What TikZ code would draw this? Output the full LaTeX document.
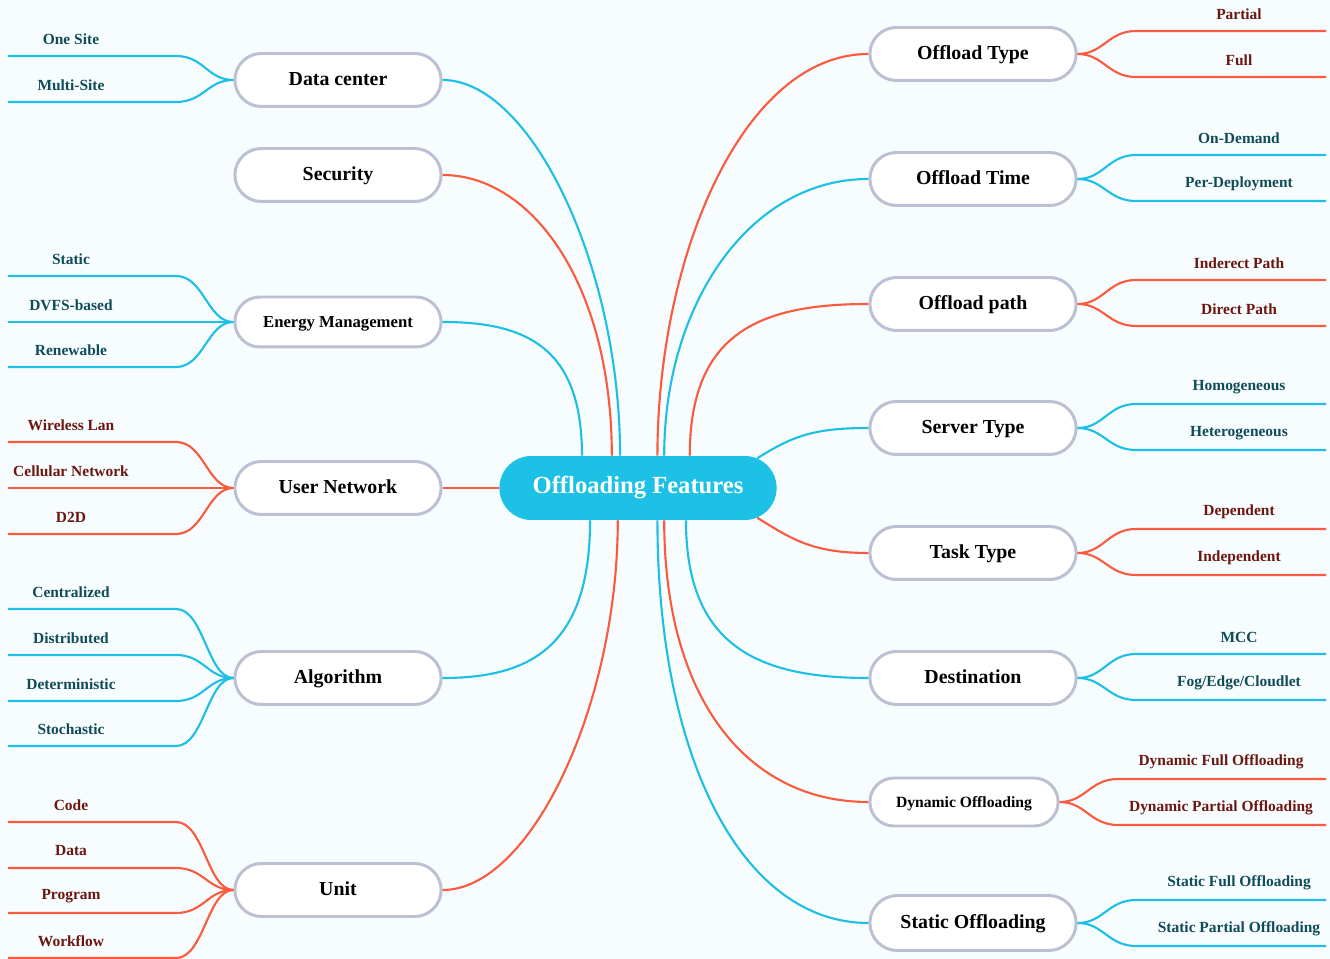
\documentclass[tikz,border=0pt]{standalone}
\usepackage{fontspec}
\setmainfont{Liberation Serif}
\usetikzlibrary{shapes.misc}

\definecolor{bgcol}{HTML}{F7FDFE}
\definecolor{cyline}{HTML}{1EBFE4}
\definecolor{rdline}{HTML}{FA5A3D}
\definecolor{hubfill}{HTML}{1CC1E5}
\definecolor{boxline}{HTML}{BDC0D3}
\definecolor{cytext}{HTML}{104B58}
\definecolor{rdtext}{HTML}{6C1610}

\tikzset{
    hub/.style={rounded rectangle, fill=hubfill, text=white, minimum width=5.78cm,
        minimum height=1.28cm, text height=1.44ex, text depth=0pt,
        font=\fontsize{14}{16}\selectfont\bfseries},
    branch/.style={rounded rectangle, draw=boxline, line width=1.7pt, fill=white,
        minimum width=4.36cm, minimum height=1.06cm, text height=1.44ex, text depth=0pt,
        font=\fontsize{11.3}{13}\selectfont\bfseries},
    cy/.style={cyline, line width=1.2pt},
    rd/.style={rdline, line width=1.2pt},
    leafcy/.style={text=cytext, font=\fontsize{8.8}{10}\selectfont\bfseries},
    leafrd/.style={text=rdtext, font=\fontsize{8.8}{10}\selectfont\bfseries}
}

\begin{document}
\begin{tikzpicture}[x=0.02cm, y=-0.02cm]
    % Canvas
    \fill[bgcol] (0,0) rectangle (1330,959);
    \useasboundingbox (0,0) rectangle (1330,959);

    % Centre
    \node[hub] (feat) at (638,488) {Offloading Features};

    % Left branches
    \node[branch] (dc) at (338,80) {Data center};
    \node[branch] (sec) at (338,175) {Security};
    \node[branch, font=\fontsize{9.5}{11}\selectfont\bfseries, minimum height=1.0cm] (em) at (338,322) {Energy Management};
    \node[branch] (un) at (338,488) {User Network};
    \node[branch] (alg) at (338,678) {Algorithm};
    \node[branch] (unit) at (338,890) {Unit};

    % Right branches
    \node[branch] (otype) at (973,54) {Offload Type};
    \node[branch] (otime) at (973,179) {Offload Time};
    \node[branch] (opath) at (973,304) {Offload path};
    \node[branch] (stype) at (973,428) {Server Type};
    \node[branch] (ttype) at (973,553) {Task Type};
    \node[branch] (dest) at (973,678) {Destination};
    \node[branch, font=\fontsize{8.9}{10}\selectfont\bfseries, minimum width=4.0cm, minimum height=0.96cm] (dyn) at (964,802) {Dynamic Offloading};
    \node[branch, minimum height=1.1cm] (stat) at (973,923) {Static Offloading};

    % Centre to left branches
    \draw[cy] (feat.119) .. controls +(0,-190) and +(88,0) .. (dc.east);
    \draw[rd] (feat.129) .. controls +(0,-170) and +(90,0) .. (sec.east);
    \draw[cy] (feat.150) .. controls +(0,-108) and +(84,0) .. (em.east);
    \draw[rd] (feat.west) -- (un.east);
    \draw[cy] (feat.214) .. controls +(0,126) and +(88,0) .. (alg.east);
    \draw[rd] (feat.238) .. controls +(0,185) and +(88,0) .. (unit.east);

    % Centre to right branches
    \draw[rd] (feat.59) .. controls +(0,-200) and +(-125,0) .. (otype.west);
    \draw[cy] (feat.51) .. controls +(0,-150) and +(-120,0) .. (otime.west);
    \draw[rd] (feat.32) .. controls +(0,-122) and +(-110,0) .. (opath.west);
    \draw[cy] (feat.14) .. controls +(35,-22) and +(-55,0) .. (stype.west);
    \draw[rd] (feat.-14) .. controls +(35,22) and +(-55,0) .. (ttype.west);
    \draw[cy] (feat.-34) .. controls +(0,126) and +(-110,0) .. (dest.west);
    \draw[rd] (feat.-51) .. controls +(0,180) and +(-120,0) .. (dyn.west);
    \draw[cy] (feat.-59) .. controls +(0,240) and +(-125,0) .. (stat.west);

    % Left leaves
    \foreach \lab/\ly [count=\i] in {One Site/56, Multi-Site/102} {
        \coordinate (dc-\i-a) at (176,\ly);
        \coordinate (dc-\i-b) at (8,\ly);
        \draw[cy] (dc.west) .. controls +(-26,0) and +(28,0) .. (dc-\i-a) -- (dc-\i-b);
        \node[leafcy] (dc-\i) at (71,\ly-17) {\lab};
    }
    \foreach \lab/\ly [count=\i] in {Static/276, DVFS-based/322, Renewable/367} {
        \coordinate (em-\i-a) at (176,\ly);
        \coordinate (em-\i-b) at (8,\ly);
        \draw[cy] (em.west) .. controls +(-26,0) and +(28,0) .. (em-\i-a) -- (em-\i-b);
        \node[leafcy] (em-\i) at (71,\ly-17) {\lab};
    }
    \foreach \lab/\ly [count=\i] in {Wireless Lan/442, Cellular Network/488, D2D/534} {
        \coordinate (un-\i-a) at (176,\ly);
        \coordinate (un-\i-b) at (8,\ly);
        \draw[rd] (un.west) .. controls +(-26,0) and +(28,0) .. (un-\i-a) -- (un-\i-b);
        \node[leafrd] (un-\i) at (71,\ly-17) {\lab};
    }
    \foreach \lab/\ly [count=\i] in {Centralized/609, Distributed/655, Deterministic/701, Stochastic/746} {
        \coordinate (alg-\i-a) at (176,\ly);
        \coordinate (alg-\i-b) at (8,\ly);
        \draw[cy] (alg.west) .. controls +(-26,0) and +(28,0) .. (alg-\i-a) -- (alg-\i-b);
        \node[leafcy] (alg-\i) at (71,\ly-17) {\lab};
    }
    \foreach \lab/\ly [count=\i] in {Code/822, Data/868, Program/913, Workflow/958} {
        \coordinate (unit-\i-a) at (176,\ly);
        \coordinate (unit-\i-b) at (8,\ly);
        \draw[rd] (unit.west) .. controls +(-26,0) and +(28,0) .. (unit-\i-a) -- (unit-\i-b);
        \node[leafrd] (unit-\i) at (71,\ly-17) {\lab};
    }

    % Right leaves
    \foreach \lab/\ly [count=\i] in {Partial/31, Full/77} {
        \coordinate (otype-\i-a) at (1136,\ly);
        \coordinate (otype-\i-b) at (1326,\ly);
        \draw[rd] (otype.east) .. controls +(26,0) and +(-28,0) .. (otype-\i-a) -- (otype-\i-b);
        \node[leafrd] (otype-\i) at (1239,\ly-17) {\lab};
    }
    \foreach \lab/\ly [count=\i] in {On-Demand/155, Per-Deployment/201} {
        \coordinate (otime-\i-a) at (1136,\ly);
        \coordinate (otime-\i-b) at (1326,\ly);
        \draw[cy] (otime.east) .. controls +(26,0) and +(-28,0) .. (otime-\i-a) -- (otime-\i-b);
        \node[leafcy] (otime-\i) at (1239,\ly-17) {\lab};
    }
    \foreach \lab/\ly [count=\i] in {Inderect Path/280, Direct Path/326} {
        \coordinate (opath-\i-a) at (1136,\ly);
        \coordinate (opath-\i-b) at (1326,\ly);
        \draw[rd] (opath.east) .. controls +(26,0) and +(-28,0) .. (opath-\i-a) -- (opath-\i-b);
        \node[leafrd] (opath-\i) at (1239,\ly-17) {\lab};
    }
    \foreach \lab/\ly [count=\i] in {Homogeneous/404, Heterogeneous/450} {
        \coordinate (stype-\i-a) at (1136,\ly);
        \coordinate (stype-\i-b) at (1326,\ly);
        \draw[cy] (stype.east) .. controls +(26,0) and +(-28,0) .. (stype-\i-a) -- (stype-\i-b);
        \node[leafcy] (stype-\i) at (1239,\ly-17) {\lab};
    }
    \foreach \lab/\ly [count=\i] in {Dependent/529, Independent/575} {
        \coordinate (ttype-\i-a) at (1136,\ly);
        \coordinate (ttype-\i-b) at (1326,\ly);
        \draw[rd] (ttype.east) .. controls +(26,0) and +(-28,0) .. (ttype-\i-a) -- (ttype-\i-b);
        \node[leafrd] (ttype-\i) at (1239,\ly-17) {\lab};
    }
    % (slashes in the label, so written out)
    \coordinate (dest-1-a) at (1136,654);
    \coordinate (dest-1-b) at (1326,654);
    \coordinate (dest-2-a) at (1136,700);
    \coordinate (dest-2-b) at (1326,700);
    \draw[cy] (dest.east) .. controls +(26,0) and +(-28,0) .. (dest-1-a) -- (dest-1-b);
    \draw[cy] (dest.east) .. controls +(26,0) and +(-28,0) .. (dest-2-a) -- (dest-2-b);
    \node[leafcy] (dest-1) at (1239,637) {MCC};
    \node[leafcy] (dest-2) at (1239,683) {Fog/Edge/Cloudlet};
    \foreach \lab/\ly [count=\i] in {Dynamic Full Offloading/779, Dynamic Partial Offloading/825} {
        \coordinate (dyn-\i-a) at (1118,\ly);
        \coordinate (dyn-\i-b) at (1326,\ly);
        \draw[rd] (dyn.east) .. controls +(26,0) and +(-28,0) .. (dyn-\i-a) -- (dyn-\i-b);
        \node[leafrd] (dyn-\i) at (1221,\ly-17) {\lab};
    }
    \foreach \lab/\ly [count=\i] in {Static Full Offloading/900, Static Partial Offloading/946} {
        \coordinate (stat-\i-a) at (1136,\ly);
        \coordinate (stat-\i-b) at (1326,\ly);
        \draw[cy] (stat.east) .. controls +(26,0) and +(-28,0) .. (stat-\i-a) -- (stat-\i-b);
        \node[leafcy] (stat-\i) at (1239,\ly-17) {\lab};
    }
\end{tikzpicture}
\end{document}
